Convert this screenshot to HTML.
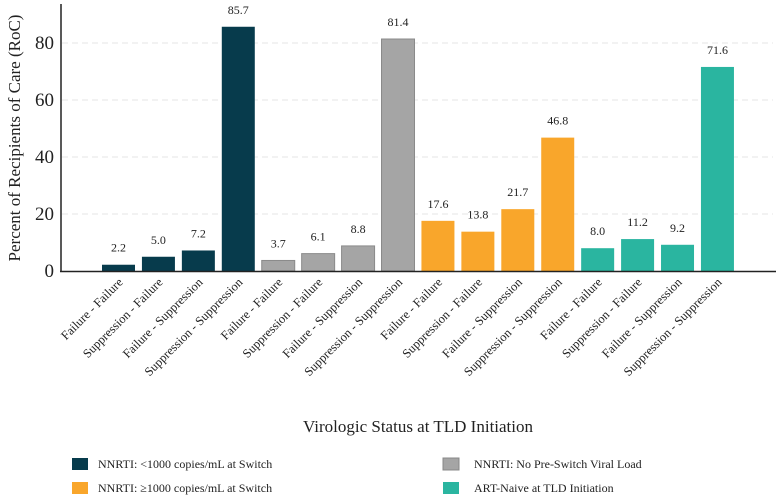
<!DOCTYPE html>
<html><head><meta charset="utf-8"><style>
body{margin:0;background:#fff;}
svg{display:block;font-family:"Liberation Serif",serif;}
</style></head><body>
<svg id="chart" width="777" height="496">
<g id="grid"></g><g id="bars"></g><g id="vals"></g><g id="xlabels"></g><g id="yticks"></g>
<line x1="61" y1="4" x2="61" y2="272" stroke="#222" stroke-width="1.5"/>
<line x1="60" y1="271.5" x2="776" y2="271.5" stroke="#222" stroke-width="1.5"/>
<text transform="translate(20,138) rotate(-90)" text-anchor="middle" font-size="17" fill="#222">Percent of Recipients of Care (RoC)</text>
<text x="418" y="432" text-anchor="middle" font-size="17" fill="#222">Virologic Status at TLD Initiation</text>
<g font-size="12" fill="#222">
<g><rect x="72" y="458" width="16" height="12" fill="#073B4C"/><text x="98" y="468">NNRTI: &lt;1000 copies/mL at Switch</text></g>
<g><rect x="72" y="482" width="16" height="12" fill="#F9A62B"/><text x="98" y="492">NNRTI: ≥1000 copies/mL at Switch</text></g>
<g><rect x="443" y="458" width="16" height="12" fill="#A5A5A5" stroke="#888"/><text x="474" y="468">NNRTI: No Pre-Switch Viral Load</text></g>
<g><rect x="443" y="482" width="16" height="12" fill="#2AB5A0"/><text x="474" y="492">ART-Naive at TLD Initiation</text></g>
</g>
</svg>
<script>
const categories=["Failure - Failure","Suppression - Failure","Failure - Suppression","Suppression - Suppression","Failure - Failure","Suppression - Failure","Failure - Suppression","Suppression - Suppression","Failure - Failure","Suppression - Failure","Failure - Suppression","Suppression - Suppression","Failure - Failure","Suppression - Failure","Failure - Suppression","Suppression - Suppression"];
const values=[2.2,5.0,7.2,85.7,3.7,6.1,8.8,81.4,17.6,13.8,21.7,46.8,8.0,11.2,9.2,71.6];
const groups=[0,0,0,0,1,1,1,1,2,2,2,2,3,3,3,3];
const yTicks=[0,20,40,60,80];
const colors=["#073B4C","#A5A5A5","#F9A62B","#2AB5A0"];
const NS="http://www.w3.org/2000/svg";
const y=v=>271-v*(228/80);
const x=i=>118.5+i*39.93;
const bw=33;
function mk(t,a,p){const e=document.createElementNS(NS,t);for(const k in a)e.setAttribute(k,a[k]);document.getElementById(p).appendChild(e);return e;}
yTicks.forEach(t=>{
 if(t>0){const g=mk("line",{x1:62,x2:773,y1:y(t),y2:y(t),stroke:"#e6e6e6","stroke-dasharray":"6,4"},"grid");
 
 }
 const l=mk("text",{x:54,y:y(t)+6,"text-anchor":"end","font-size":19,fill:"#222"},"yticks");l.textContent=t;
 
 
});
values.forEach((v,i)=>{
 const r=mk("rect",{x:x(i)-bw/2,y:y(v),width:bw,height:y(0)-y(v),fill:colors[groups[i]]},"bars");
 if(groups[i]==1){r.setAttribute("stroke","#8a8a8a");r.setAttribute("stroke-width","1");}
 
 
 const t=mk("text",{x:x(i),y:y(v)-13,"text-anchor":"middle","font-size":12,fill:"#222"},"vals");t.textContent=v.toFixed(1);
 
 
 const c=mk("text",{transform:`translate(${x(i)+5},${283}) rotate(-45)`,"text-anchor":"end","font-size":12.5,fill:"#222"},"xlabels");c.textContent=categories[i];
 
 
});
</script>
</body></html>
